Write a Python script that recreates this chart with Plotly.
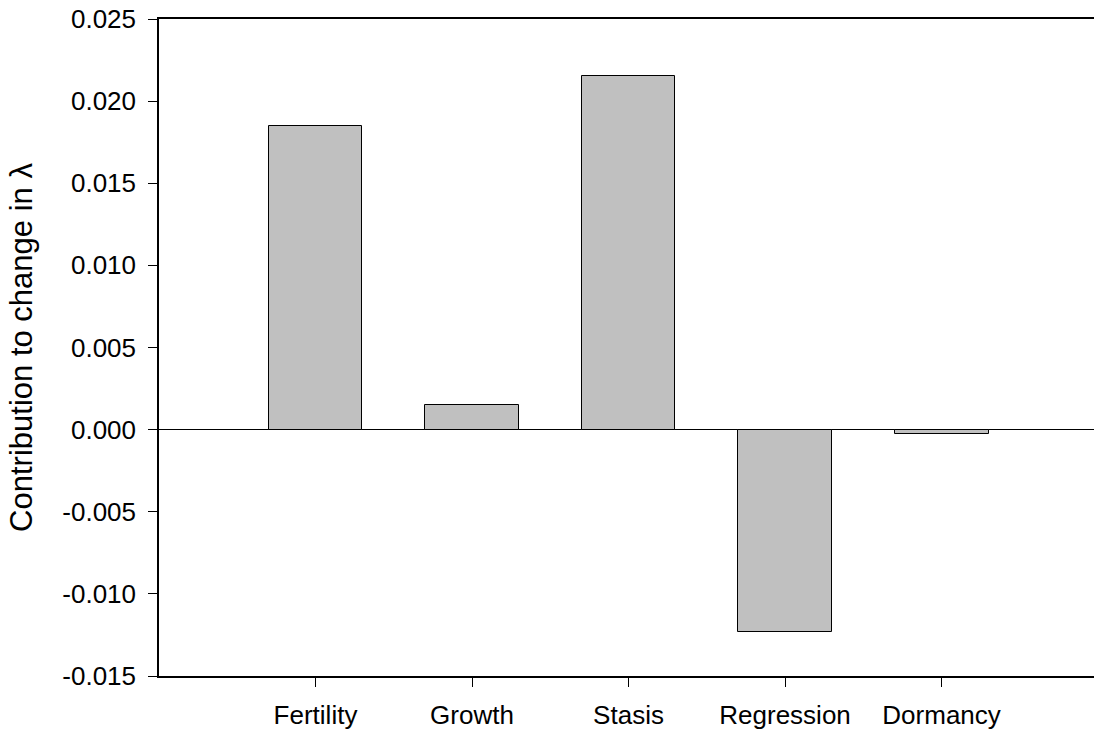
import plotly.graph_objects as go

# Contribution of each vital-rate class to the change in lambda
categories = ["Fertility", "Growth", "Stasis", "Regression", "Dormancy"]
positions = [1, 2, 3, 4, 5]
contributions = [0.0185, 0.0015, 0.0215, -0.0123, -0.00025]

y_ticks = [-0.015, -0.010, -0.005, 0.000, 0.005, 0.010, 0.015, 0.020, 0.025]
y_tick_labels = ["-0.015", "-0.010", "-0.005", "0.000", "0.005", "0.010", "0.015", "0.020", "0.025"]

font_family = "Liberation Sans, Arial, sans-serif"

fig = go.Figure(
    go.Bar(
        x=positions,
        y=contributions,
        width=0.6,
        marker=dict(color="#c0c0c0", line=dict(color="black", width=1)),
        showlegend=False,
    )
)

fig.update_layout(
    width=1094,
    height=734,
    margin=dict(l=159, r=0, t=19, b=58, pad=0),
    plot_bgcolor="white",
    paper_bgcolor="white",
    font=dict(family=font_family, size=26, color="black"),
    bargap=0,
)

fig.update_xaxes(
    range=[0, 5.974],
    tickmode="array",
    tickvals=positions,
    ticktext=categories,
    ticks="outside",
    ticklen=9,
    tickwidth=1,
    tickcolor="black",
    showline=True,
    linecolor="black",
    linewidth=1.5,
    mirror=True,
    showgrid=False,
    zeroline=False,
    automargin=False,
    ticklabelstandoff=6,
)

fig.update_yaxes(
    range=[-0.015, 0.025],
    tickmode="array",
    tickvals=y_ticks,
    ticktext=y_tick_labels,
    ticks="outside",
    ticklen=9,
    tickwidth=1,
    tickcolor="black",
    showline=True,
    linecolor="black",
    linewidth=1.5,
    showgrid=False,
    zeroline=True,
    zerolinecolor="black",
    zerolinewidth=1,
    automargin=False,
    ticklabelstandoff=7,
    title=dict(text="Contribution to change in λ", standoff=20),
)

fig.write_html("out.html")
